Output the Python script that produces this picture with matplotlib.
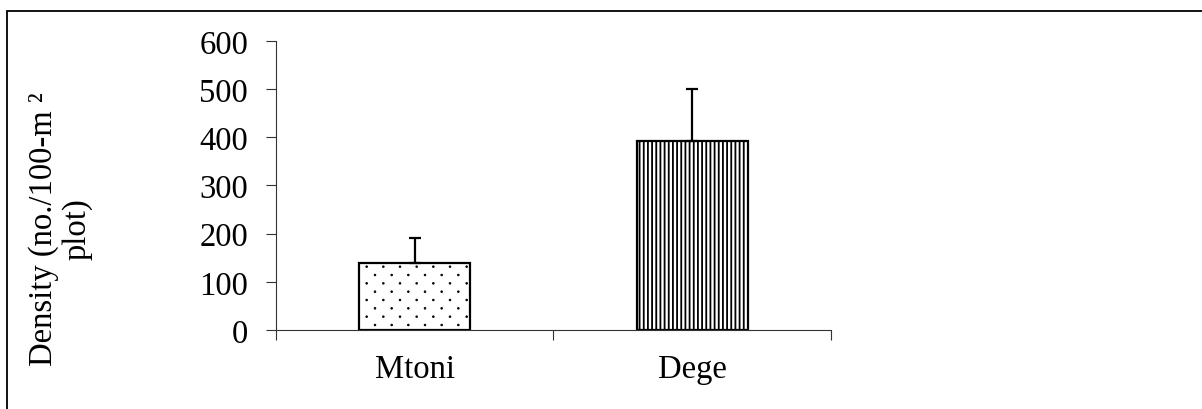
import numpy as np
import matplotlib
matplotlib.use('Agg')
import matplotlib.pyplot as plt
from matplotlib import hatch as mhatch
from matplotlib.path import Path
from matplotlib.patches import Rectangle

# data
sites = ['Mtoni', 'Dege']
density = [139, 393]
err_up = [52, 107]
hatches = ['.', '||||']
y_ticks = [0, 100, 200, 300, 400, 500, 600]


# Excel-like sparse dot fill: rows twice as close as the dots within a row
class StaggeredDots(mhatch.HatchPatternBase):
    def __init__(self, hatch, density):
        cols = hatch.count('.') * density
        self.verts = np.zeros((0, 2))
        self.codes = np.zeros(0, dtype=Path.code_type)
        if cols == 0:
            self.num_vertices = 0
            return
        circle = Path.unit_circle()
        dot_v = circle.vertices * (0.05 / cols)
        vs, cs = [], []
        for r in range(2 * cols + 1):
            if r % 2 == 0:
                xs = np.linspace(0, 1, cols + 1)
            else:
                xs = np.linspace(0.5 / cols, 1 - 0.5 / cols, cols)
            for xp in xs:
                vs.append(dot_v + [xp, r / (2 * cols)])
                cs.append(circle.codes)
        self.verts = np.concatenate(vs)
        self.codes = np.concatenate(cs)
        self.num_vertices = len(self.verts)

    def set_vertices_and_codes(self, vertices, codes):
        vertices[:] = self.verts
        codes[:] = self.codes

    get_vertices_and_codes = set_vertices_and_codes


mhatch._hatch_types = [StaggeredDots if h is mhatch.SmallFilledCircles else h
                       for h in mhatch._hatch_types]

plt.rcParams['font.family'] = ['Liberation Serif', 'DejaVu Serif']
fs = 23.5

fig = plt.figure(figsize=(12.02, 4.10), dpi=100)
ax = fig.add_axes([0.2296, 0.1927, 0.4617, 0.7049])

x = np.arange(len(sites)) + 0.5
hatch_lw = [0.6, 1.3]
for i in range(len(sites)):
    with plt.rc_context({'hatch.linewidth': hatch_lw[i]}):
        ax.bar(x[i], density[i], width=0.40, color='white', edgecolor='black',
               linewidth=1.6, hatch=hatches[i], zorder=2)

ax.errorbar(x, density, yerr=[np.zeros(len(sites)), err_up], fmt='none',
            ecolor='black', elinewidth=1.6, capsize=4.5, capthick=1.6, zorder=3)

ax.set_xlim(0, 2)
ax.set_ylim(0, 600)
ax.set_yticks(y_ticks)
ax.set_xticks(x)
ax.set_xticklabels(sites)
ax.set_xticks([0, 1, 2], minor=True)

for s in ['top', 'right']:
    ax.spines[s].set_visible(False)
for s in ['left', 'bottom']:
    ax.spines[s].set_linewidth(0.8)
    ax.spines[s].set_color('#333333')

ax.tick_params(axis='y', direction='out', length=7, width=0.8, color='#333333',
               labelsize=fs, pad=13)
ax.tick_params(axis='x', which='major', length=0, labelsize=fs, pad=17)
ax.tick_params(axis='x', which='minor', direction='out', length=7, width=0.8,
               color='#333333')

fig.text(0.050, 0.44, 'Density (no./100-m \u00b2\nplot)', rotation=90,
         ha='center', va='center', fontsize=fs, linespacing=1.12)

# outer frame (cropped on the right and bottom in the reference)
fig.patches.append(Rectangle((0.0058, -0.2), 1.2, 0.2 + 0.9707, fill=False,
                             edgecolor='black', linewidth=1.3,
                             transform=fig.transFigure, figure=fig))

fig.savefig('out.png', dpi=100)
